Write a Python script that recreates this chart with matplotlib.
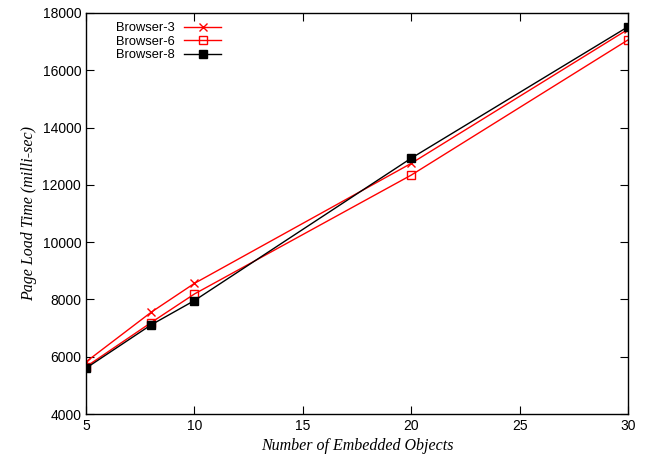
import matplotlib
matplotlib.use("Agg")
import matplotlib.pyplot as plt

objects = [5, 8, 10, 20, 30]
browser3 = [5820, 7550, 8560, 12750, 17430]
browser6 = [5650, 7190, 8190, 12340, 17060]
browser8 = [5600, 7110, 7960, 12930, 17520]

plt.rcParams["font.family"] = "Liberation Sans"

fig = plt.figure(figsize=(6.48, 4.57), dpi=100)
ax = fig.add_axes([86 / 648, 43 / 457, 542 / 648, 401 / 457])

ax.plot(objects, browser3, color="#ff0000", lw=1, marker="x", ms=6, mew=1, label="Browser-3")
ax.plot(objects, browser6, color="#ff0000", lw=1, marker="s", ms=6, mew=1,
        mfc="none", label="Browser-6")
ax.plot(objects, browser8, color="black", lw=1, marker="s", ms=6, label="Browser-8")

ax.set_xlim(5, 30)
ax.set_ylim(4000, 18000)
ax.set_xticks(range(5, 31, 5))
ax.set_yticks(range(4000, 18001, 2000))
ax.tick_params(direction="in", top=True, right=True, length=6, labelsize=10)
for s in ax.spines.values():
    s.set_linewidth(1)

ax.set_xlabel("Number of Embedded Objects", family="Liberation Serif", style="italic", fontsize=11.5)
ax.set_ylabel("Page Load Time (milli-sec)", family="Liberation Serif", style="italic", fontsize=11.5)

ax.legend(loc="upper left", frameon=False, markerfirst=False, fontsize=9.3,
          handlelength=2.9, handletextpad=0.7, labelspacing=0.12, borderaxespad=0.3,
          bbox_to_anchor=(0.039, 1.0))

fig.savefig("out.png", dpi=100)
